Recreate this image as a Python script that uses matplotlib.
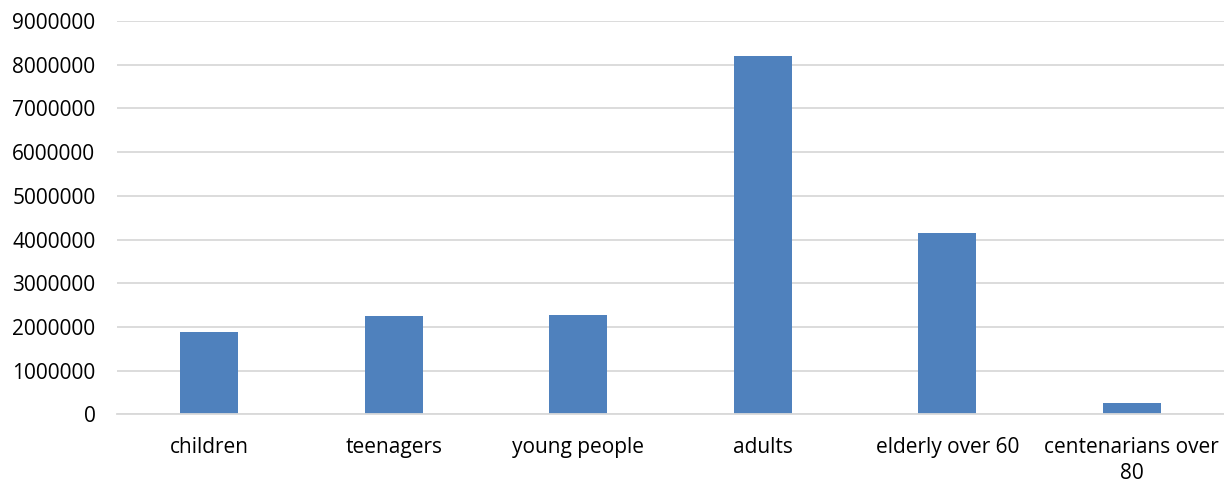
import matplotlib
matplotlib.use("Agg")
import matplotlib.pyplot as plt

categories = ["children", "teenagers", "young people", "adults", "elderly over 60", "centenarians over\n80"]
values = [1895000, 2255000, 2285000, 8200000, 4160000, 255000]
yticks = [0, 1000000, 2000000, 3000000, 4000000, 5000000, 6000000, 7000000, 8000000, 9000000]

plt.rcParams['font.family'] = ['Open Sans', 'DejaVu Sans']

fig = plt.figure(figsize=(12.24, 4.84), dpi=100)
ax = fig.add_axes([0.0956, 0.1436, 0.9044, 0.813])

x = range(len(categories))
ax.bar(x, values, width=0.313, color="#4f81bd", zorder=3)

ax.set_xlim(-0.5, len(categories) - 0.5)
ax.set_ylim(0, 9000000)
ax.set_yticks(yticks)
ax.set_yticklabels([str(v) for v in yticks])
ax.set_xticks(list(x))
ax.set_xticklabels(categories, linespacing=1.3)

ax.grid(axis="y", color="#d9d9d9", linewidth=1.3, zorder=0)
for s in ["top", "right", "left"]:
    ax.spines[s].set_visible(False)
ax.spines["bottom"].set_color("#d9d9d9")
ax.spines["bottom"].set_linewidth(1.3)
ax.spines["bottom"].set_zorder(4)

ax.tick_params(axis="y", length=0, pad=15.5, labelsize=15, labelcolor="#000000")
ax.tick_params(axis="x", length=0, pad=16, labelsize=15, labelcolor="#000000")

fig.savefig("out.png", dpi=100, facecolor="white")
